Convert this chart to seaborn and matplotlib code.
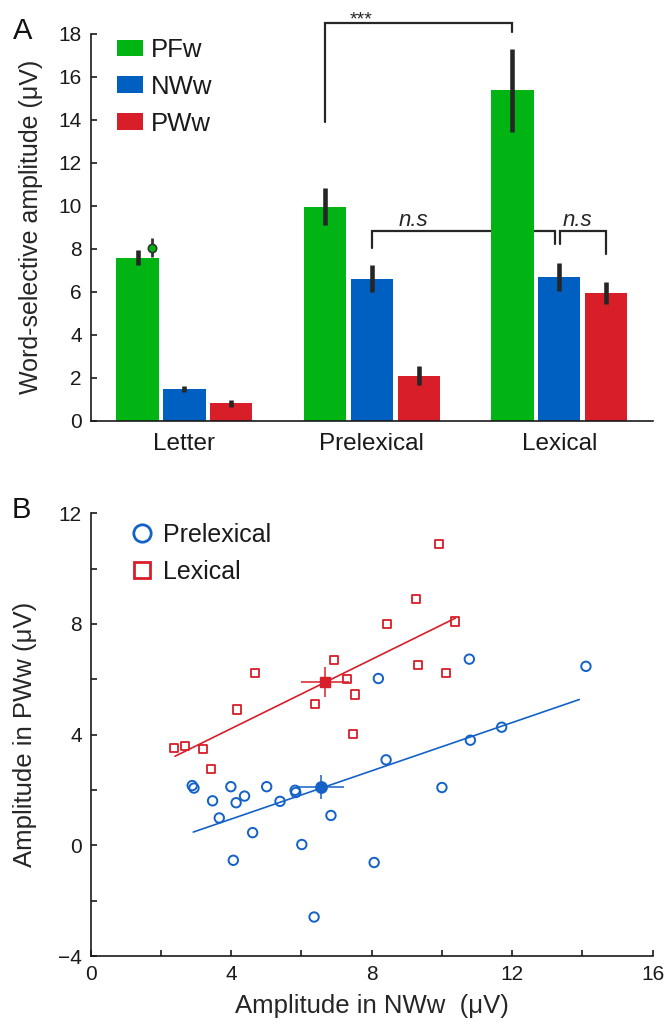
import numpy as np
import pandas as pd
import matplotlib
matplotlib.use("Agg")
import matplotlib.pyplot as plt
import seaborn as sns
from matplotlib.lines import Line2D
from matplotlib.patches import Patch

# ---------------- Panel A data ----------------
categories = ["Letter", "Prelexical", "Lexical"]
conditions = ["PFw", "NWw", "PWw"]
pfw_mean = [7.58, 9.96, 15.38]
pfw_sem = [0.35, 0.87, 1.93]
nww_mean = [1.46, 6.60, 6.70]
nww_sem = [0.14, 0.63, 0.66]
pww_mean = [0.80, 2.09, 5.94]
pww_sem = [0.15, 0.45, 0.52]
letter_dot_mean = 8.05
letter_dot_sem = 0.45
a_yticks = [0, 2, 4, 6, 8, 10, 12, 14, 16, 18]

# ---------------- Panel B data ----------------
prelex_x = [2.89, 2.94, 3.47, 3.66, 3.99, 4.14, 4.38, 4.06, 4.61, 5.01, 5.39, 5.82,
            5.84, 6.01, 6.36, 6.84, 8.19, 8.41, 8.07, 10.00, 10.78, 10.81, 11.70, 14.10]
prelex_y = [2.16, 2.07, 1.61, 0.99, 2.12, 1.54, 1.78, -0.54, 0.46, 2.12, 1.59, 1.99,
            1.91, 0.03, -2.59, 1.08, 6.03, 3.09, -0.62, 2.09, 6.73, 3.80, 4.27, 6.47]
lex_x = [2.37, 2.69, 3.19, 3.42, 4.16, 4.69, 6.38, 6.93, 7.29, 7.52, 7.48, 8.44,
         9.31, 9.26, 9.92, 10.11, 10.38]
lex_y = [3.51, 3.60, 3.49, 2.77, 4.91, 6.23, 5.12, 6.71, 6.02, 5.45, 4.03, 8.01,
         6.52, 8.89, 10.88, 6.22, 8.09]
prelex_mean_xy = [6.55, 2.10]
prelex_mean_err = [0.67, 0.44]
lex_mean_xy = [6.67, 5.90]
lex_mean_err = [0.69, 0.53]
prelex_fit_x = [2.92, 13.91]
prelex_fit_y = [0.48, 5.27]
lex_fit_x = [2.40, 10.38]
lex_fit_y = [3.22, 8.21]
b_xticks = [0, 2, 4, 6, 8, 10, 12, 14, 16]
b_xticklabels = ["0", "", "4", "", "8", "", "12", "", "16"]
b_yticks = [-4, -2, 0, 2, 4, 6, 8, 10, 12]
b_yticklabels = ["\u22124", "", "0", "", "4", "", "8", "", "12"]
groups_b = ["Prelexical", "Lexical"]

# ---------------- style ----------------
sns.set_theme(style="ticks")
plt.rcParams["font.family"] = ["Liberation Sans", "DejaVu Sans"]
plt.rcParams["axes.unicode_minus"] = True

GREEN = "#00B414"
BLUE = "#0060C2"
RED = "#D81E28"
DARK = "#262626"
SBLUE = "#1462C8"
SRED = "#D81E2A"

fig = plt.figure(figsize=(6.66, 10.26), dpi=100)
axA = fig.add_axes([0.1362, 0.5900, 0.8443, 0.3769])
axB = fig.add_axes([0.1362, 0.0682, 0.8438, 0.4315])

# ---------------- Panel A ----------------
rows = []
for cond, means in zip(conditions, [pfw_mean, nww_mean, pww_mean]):
    for cat, m in zip(categories, means):
        rows.append({"category": cat, "condition": cond, "value": m})
df = pd.DataFrame(rows)

sns.barplot(data=df, x="category", y="value", hue="condition", order=categories,
            hue_order=conditions, palette=dict(zip(conditions, [GREEN, BLUE, RED])),
            saturation=1, width=0.75, gap=0.1, errorbar=None, legend=False,
            linewidth=0, ax=axA, zorder=2)

centers = {}
for cond, cont, sems in zip(conditions, axA.containers, [pfw_sem, nww_sem, pww_sem]):
    xs = [b.get_x() + b.get_width() / 2 for b in cont]
    hs = [b.get_height() for b in cont]
    centers[cond] = xs
    axA.errorbar(xs, hs, yerr=sems, fmt="none", ecolor=DARK, elinewidth=3.3,
                 capsize=0, zorder=4)

# small green dot on Letter PFw bar
b0 = axA.containers[0][0]
axA.errorbar([b0.get_x() + b0.get_width() * 0.84], [letter_dot_mean],
             yerr=[letter_dot_sem], fmt="o", color=GREEN, mec="#333333", mew=1.2,
             ms=6, ecolor="#333333", elinewidth=2.0, capsize=0, zorder=5)

axA.set_xlim(-0.5, 2.5)
axA.set_ylim(0, 18)
axA.set_yticks(a_yticks)
axA.set_xlabel("")
axA.set_ylabel("Word-selective amplitude (\u03bcV)", fontsize=18)
axA.yaxis.set_label_coords(-0.085, 0.5)
axA.tick_params(axis="y", direction="in", length=4.3, width=1.2, labelsize=15, pad=6.5,
                colors="#1a1a1a")
axA.tick_params(axis="x", length=0, labelsize=17.5, pad=9, colors="#1a1a1a")
for s in ["top", "right"]:
    axA.spines[s].set_visible(False)
for s in ["left", "bottom"]:
    axA.spines[s].set_linewidth(1.2)
    axA.spines[s].set_color("#1a1a1a")

def bracket(ax, x1, x2, ytop, yl, yr, lw=1.6, z=1):
    ax.plot([x1, x1, x2, x2], [yl, ytop, ytop, yr], color=DARK, lw=lw,
            solid_joinstyle="miter", clip_on=False, zorder=z)

# *** bracket between Prelexical PFw and Lexical PFw
xL, xR = centers["PFw"][1], centers["PFw"][2]
bracket(axA, xL, xR, 18.5, 13.9, 18.1)
axA.text(xL + 0.19 * (xR - xL), 18.45, "***", ha="center", va="baseline",
         fontsize=14, color=DARK, clip_on=False)
# n.s brackets
xa, xb, xc = centers["NWw"][1], centers["NWw"][2], centers["PWw"][2]
bracket(axA, xa, xb - 0.022, 8.85, 8.04, 8.2)
bracket(axA, xb + 0.005, xc, 8.85, 8.2, 7.75)
axA.text(xa + 0.22 * (xb - xa), 9.08, "n.s", style="italic", ha="center",
         va="baseline", fontsize=16, color=DARK)
axA.text(xb + 0.39 * (xc - xb), 9.08, "n.s", style="italic", ha="center",
         va="baseline", fontsize=16, color=DARK)

legA = axA.legend(handles=[Patch(facecolor=c, edgecolor="none") for c in [GREEN, BLUE, RED]],
                  labels=conditions, loc="upper left", bbox_to_anchor=(0.0468, 0.99),
                  frameon=False, fontsize=18.5, handlelength=1.0, handleheight=0.6,
                  handletextpad=0.32, labelspacing=0.5, borderpad=0, borderaxespad=0)
for t in legA.get_texts():
    t.set_color("#1a1a1a")

# ---------------- Panel B ----------------
sns.scatterplot(x=prelex_x, y=prelex_y, ax=axB, marker="o", s=46, color=SBLUE,
                linewidth=1.4, zorder=3)
axB.collections[-1].set_facecolor("none")
axB.collections[-1].set_edgecolor(SBLUE)
sns.scatterplot(x=lex_x, y=lex_y, ax=axB, marker="s", s=34, color=SRED,
                linewidth=1.3, zorder=3)
axB.collections[-1].set_facecolor("none")
axB.collections[-1].set_edgecolor(SRED)

sns.lineplot(x=prelex_fit_x, y=prelex_fit_y, ax=axB, color=SBLUE, lw=1.2, zorder=2)
sns.lineplot(x=lex_fit_x, y=lex_fit_y, ax=axB, color=SRED, lw=1.2, zorder=2)

axB.errorbar([prelex_mean_xy[0]], [prelex_mean_xy[1]], xerr=[prelex_mean_err[0]],
             yerr=[prelex_mean_err[1]], fmt="o", color=SBLUE, ms=8.2, ecolor=SBLUE,
             elinewidth=1.1, capsize=0, zorder=4)
axB.errorbar([lex_mean_xy[0]], [lex_mean_xy[1]], xerr=[lex_mean_err[0]],
             yerr=[lex_mean_err[1]], fmt="s", color=SRED, ms=7.6, ecolor=SRED,
             elinewidth=1.1, capsize=0, zorder=4)

axB.set_xlim(0, 16)
axB.set_ylim(-4, 12)
axB.set_xticks(b_xticks)
axB.set_xticklabels(b_xticklabels)
axB.set_yticks(b_yticks)
axB.set_yticklabels(b_yticklabels)
axB.set_xlabel("Amplitude in NWw  (\u03bcV)", fontsize=18.5, labelpad=7)
axB.set_ylabel("Amplitude in PWw (\u03bcV)", fontsize=18.5)
axB.yaxis.set_label_coords(-0.095, 0.5)
axB.tick_params(axis="both", direction="in", length=4.3, width=1.2, labelsize=15,
                pad=6.5, colors="#1a1a1a")
for s in ["top", "right"]:
    axB.spines[s].set_visible(False)
for s in ["left", "bottom"]:
    axB.spines[s].set_linewidth(1.2)
    axB.spines[s].set_color("#1a1a1a")

hB = [Line2D([], [], marker="o", ls="none", mfc="none", mec=SBLUE, mew=2.0, ms=12.5),
      Line2D([], [], marker="s", ls="none", mfc="none", mec=SRED, mew=2.0, ms=12)]
legB = axB.legend(handles=hB, labels=groups_b, loc="upper left",
                  bbox_to_anchor=(0.064, 0.978), frameon=False, fontsize=18,
                  handlelength=1.2, handletextpad=0.25, labelspacing=0.5,
                  borderpad=0, borderaxespad=0)
for t in legB.get_texts():
    t.set_color("#1a1a1a")

fig.text(13 / 666, 1 - 39 / 1026, "A", ha="left", va="baseline", fontsize=21, color="#111111")
fig.text(12 / 666, 1 - 518 / 1026, "B", ha="left", va="baseline", fontsize=21, color="#111111")

fig.savefig("out.png", dpi=100, facecolor="white")
